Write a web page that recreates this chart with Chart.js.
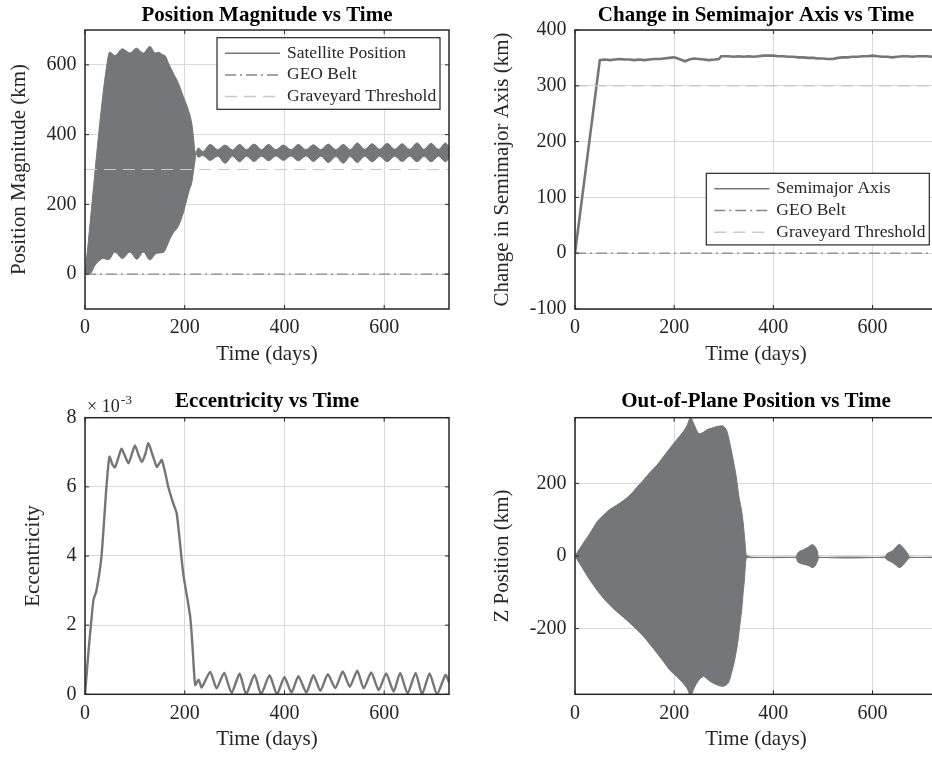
<!DOCTYPE html>
<html>
<head>
<meta charset="utf-8">
<title>Satellite orbit plots</title>
<script src="https://cdn.jsdelivr.net/npm/chart.js@4.4.1/dist/chart.umd.min.js"></script>
<style>
  html, body { margin: 0; padding: 0; background: #fff; overflow: hidden; }
  body { width: 932px; height: 757px; position: relative; }
  canvas { position: absolute; }
</style>
</head>
<body>
<canvas id="posChart" width="466" height="380" style="left:0;top:0"></canvas>
<canvas id="smaChart" width="480" height="380" style="left:466px;top:0"></canvas>
<canvas id="eccChart" width="466" height="377" style="left:0;top:380px"></canvas>
<canvas id="zChart" width="480" height="377" style="left:466px;top:380px"></canvas>
<script>
// ---- data: [day, value] ----
const timeTicks = [0, 200, 400, 600];
const posTicks = [0, 200, 400, 600];
const smaTicks = [-100, 0, 100, 200, 300, 400];
const eccTicks = [0, 2, 4, 6, 8];
const zTicks = [-200, 0, 200];

// position magnitude (km): upper / lower edge of the orbit-scale oscillation band
const posUpper = [[0, 0], [47, 628], [50, 636], [60, 627], [75, 646], [90, 634], [103, 648], [117, 634],
  [130, 653], [141, 634], [148, 636], [155, 630], [162, 624], [167, 606], [177, 577], [187, 548],
  [197, 510], [207, 472], [214, 433], [218, 386], [220, 357], [222, 347], [227, 362], [236, 352],
  [251, 372], [266, 357], [281, 370], [296, 356], [310, 372], [324, 357], [339, 373], [354, 357],
  [368, 372], [383, 357], [398, 370], [413, 357], [428, 372], [443, 357], [458, 371], [473, 357],
  [488, 373], [503, 357], [518, 372], [532, 357], [546, 376], [561, 358], [576, 374], [591, 358],
  [606, 375], [621, 358], [636, 374], [651, 358], [666, 376], [680, 358], [694, 375], [709, 358],
  [723, 376], [730, 365]];
const posLower = [[0, 0], [10, 1], [20, 25], [30, 40], [37, 45], [47, 41], [60, 63], [75, 45], [90, 63],
  [104, 43], [117, 63], [130, 41], [144, 60], [157, 62], [164, 79], [170, 100], [177, 118], [187, 137],
  [197, 175], [204, 213], [210, 245], [214, 261], [218, 300], [221, 330], [222, 347], [227, 335],
  [236, 340], [251, 326], [266, 338], [281, 318], [296, 338], [310, 322], [324, 338], [339, 323],
  [354, 338], [368, 325], [383, 339], [398, 326], [413, 339], [428, 325], [443, 339], [458, 323],
  [473, 338], [488, 320], [503, 337], [518, 318], [532, 337], [546, 320], [561, 338], [576, 322],
  [591, 338], [606, 322], [621, 338], [636, 323], [651, 338], [666, 322], [680, 338], [694, 322],
  [709, 338], [723, 322], [730, 333]];

const geoBelt = [[0, 0], [730, 0]];
const graveyard = [[0, 300], [730, 300]];

// change in semimajor axis (km)
const smaChange = [[0, 0], [50, 346], [60, 347], [70, 346], [80, 347], [90, 348], [100, 347], [110, 347],
  [120, 346], [130, 347], [140, 346], [150, 347], [160, 348], [170, 348], [180, 349], [190, 350],
  [200, 351], [210, 348], [222, 344], [230, 347], [240, 349], [250, 348], [260, 347], [270, 346],
  [282, 347], [290, 348], [295, 353], [300, 353], [310, 353], [320, 352], [330, 353], [340, 352],
  [350, 353], [360, 352], [370, 353], [380, 354], [390, 354], [400, 354], [410, 353], [420, 353],
  [430, 352], [440, 352], [450, 351], [460, 351], [470, 350], [480, 350], [490, 349], [500, 349],
  [510, 348], [520, 348], [530, 350], [540, 351], [550, 351], [560, 352], [570, 352], [580, 353],
  [590, 353], [600, 354], [610, 353], [620, 352], [630, 352], [640, 351], [650, 352], [660, 353],
  [670, 353], [680, 352], [690, 353], [700, 353], [710, 353], [720, 352], [730, 352]];

// eccentricity, in units of 1e-3
const eccE3 = [[0, 0], [8, 1.4], [17, 2.73], [23, 3.0], [33, 3.98], [43, 6.0], [49, 6.87], [55, 6.65],
  [60, 6.56], [66, 6.8], [73, 7.1], [80, 6.9], [87, 6.68], [94, 6.95], [100, 7.2], [108, 6.9],
  [114, 6.72], [121, 6.95], [127, 7.26], [136, 6.9], [144, 6.58], [150, 6.7], [154, 6.78], [161, 6.4],
  [167, 6.0], [177, 5.52], [184, 5.23], [197, 3.5], [211, 2.24], [216, 1.3], [221, 0.27], [228, 0.42],
  [234, 0.2], [251, 0.65], [264, 0.17], [279, 0.62], [294, 0.04], [310, 0.6], [323, 0.0], [340, 0.57],
  [353, 0.0], [370, 0.55], [385, 0.0], [400, 0.5], [414, 0.05], [428, 0.52], [444, 0.05], [458, 0.55],
  [472, 0.1], [487, 0.58], [502, 0.18], [517, 0.66], [531, 0.22], [546, 0.68], [559, 0.17], [574, 0.63],
  [589, 0.12], [604, 0.6], [619, 0.08], [632, 0.62], [647, 0.02], [663, 0.62], [676, 0.0], [691, 0.6],
  [706, 0.0], [723, 0.56], [730, 0.35]];

// out-of-plane position (km): upper / lower edge of the oscillation band
const zUpper = [[0, 0], [15, 32], [30, 62], [45, 95], [57, 112], [70, 128], [84, 140], [97, 152],
  [111, 168], [124, 188], [138, 209], [151, 230], [165, 250], [178, 273], [191, 296], [205, 320],
  [218, 342], [226, 360], [233, 381], [241, 360], [249, 338], [258, 340], [266, 348], [275, 352],
  [284, 356], [292, 358], [299, 358], [306, 345], [312, 312], [319, 265], [325, 220], [331, 160],
  [336, 125], [340, 80], [343, 35], [345, 4], [349, 0], [355, -3], [445, -3], [449, 8], [454, 14],
  [459, 16], [464, 20], [470, 24], [476, 30], [480, 31], [485, 24], [489, 12], [492, -3], [624, -3],
  [629, 6], [634, 10], [640, 14], [646, 22], [651, 30], [655, 32], [661, 24], [667, 14], [672, 4],
  [675, -3], [730, -3]];
const zLower = [[0, 0], [15, -33], [30, -66], [45, -95], [57, -116], [70, -135], [84, -153], [97, -168],
  [111, -185], [124, -202], [138, -221], [151, -243], [165, -267], [178, -290], [191, -314], [205, -332],
  [218, -350], [226, -365], [233, -383], [241, -362], [248, -345], [259, -332], [272, -345], [286, -355],
  [299, -359], [309, -350], [316, -320], [322, -286], [328, -240], [332, -195], [336, -150], [339, -103],
  [342, -60], [345, -8], [349, -4], [355, -4.5], [445, -4.5], [449, -16], [454, -20], [459, -22],
  [464, -24], [470, -26], [476, -30], [480, -32], [485, -26], [489, -14], [492, -4.5], [624, -4.5],
  [629, -10], [634, -14], [640, -18], [646, -24], [651, -30], [655, -32], [661, -26], [667, -16],
  [672, -8], [675, -4.5], [730, -4.5]];

// ---- styling ----
const serif = "'Liberation Serif', 'Times New Roman', serif";
const axisColor = '#262626';
const gridColor = '#d9d9d9';
const seriesGray = '#75767a';
const geoGray = '#878787';
const graveGray = '#c8c8c8';
const tickFont = { family: serif, size: 20 };
const labelFont = { family: serif, size: 21 };
const titleFont = { family: serif, size: 21, weight: 'bold' };

Chart.defaults.font.family = serif;

const pts = arr => arr.map(([x, y]) => ({ x, y }));

function bandDatasets(upper, lower, label, smooth) {
  const curve = smooth ? { cubicInterpolationMode: 'monotone' } : { tension: 0.3 };
  return [
    { label, data: pts(upper), borderColor: seriesGray, backgroundColor: seriesGray, borderWidth: 1,
      fill: '+1', pointRadius: 0, order: 2, inLegend: true, ...curve },
    { label: label + ' (lower)', data: pts(lower), borderColor: seriesGray, borderWidth: 1,
      fill: false, pointRadius: 0, order: 2, ...curve }
  ];
}

function refLines() {
  return [
    { label: 'GEO Belt', data: pts(geoBelt), borderColor: geoGray, borderWidth: 1.2,
      borderDash: [11, 4, 2, 4], pointRadius: 0, fill: false, order: 1, inLegend: true },
    { label: 'Graveyard Threshold', data: pts(graveyard), borderColor: graveGray, borderWidth: 1.2,
      borderDash: [12, 7], pointRadius: 0, fill: false, order: 0, inLegend: true }
  ];
}

// box around the axes, inward tick marks, floating legend and exponent note
const matlabAxes = {
  id: 'matlabAxes',
  afterDatasetsDraw(chart) {
    const { ctx, chartArea: a, scales } = chart;
    const len = 4;
    ctx.save();
    ctx.strokeStyle = axisColor;
    ctx.lineWidth = 1;
    ctx.beginPath();
    scales.x.ticks.forEach(t => {
      const px = scales.x.getPixelForValue(t.value);
      ctx.moveTo(px, a.bottom); ctx.lineTo(px, a.bottom - len);
      ctx.moveTo(px, a.top); ctx.lineTo(px, a.top + len);
    });
    scales.y.ticks.forEach(t => {
      const py = scales.y.getPixelForValue(t.value);
      ctx.moveTo(a.left, py); ctx.lineTo(a.left + len, py);
      ctx.moveTo(a.right, py); ctx.lineTo(a.right - len, py);
    });
    ctx.stroke();
    ctx.lineWidth = 1.5;
    ctx.strokeRect(a.left, a.top, a.right - a.left, a.bottom - a.top);
    ctx.restore();
  },
  afterDraw(chart, args, opts) {
    const { ctx, chartArea: a } = chart;
    ctx.save();
    if (opts.legend) {
      const lg = opts.legend;
      const left = a.right - lg.right - lg.width;
      const top = a.top + lg.top;
      ctx.fillStyle = '#fff';
      ctx.fillRect(left, top, lg.width, lg.height);
      ctx.strokeStyle = axisColor;
      ctx.lineWidth = 1.2;
      ctx.strokeRect(left, top, lg.width, lg.height);
      ctx.font = '17.5px ' + serif;
      ctx.textBaseline = 'middle';
      chart.data.datasets.filter(d => d.inLegend).forEach((d, i) => {
        const y = top + 15.5 + i * 21.7;
        ctx.strokeStyle = d.borderColor;
        ctx.lineWidth = 1.5;
        ctx.setLineDash(d.borderDash || []);
        ctx.beginPath();
        ctx.moveTo(left + 8, y);
        ctx.lineTo(left + 63, y);
        ctx.stroke();
        ctx.setLineDash([]);
        ctx.fillStyle = axisColor;
        ctx.fillText(d.label, left + 70, y);
      });
    }
    if (opts.exponent) {
      ctx.fillStyle = axisColor;
      ctx.textBaseline = 'alphabetic';
      ctx.font = '18px ' + serif;
      const x0 = a.left + 2, y0 = a.top - 6;
      ctx.fillText('\u00d7 10', x0, y0);
      const w = ctx.measureText('\u00d7 10').width;
      ctx.font = '13.5px ' + serif;
      ctx.fillText(opts.exponent, x0 + w + 1, y0 - 8);
    }
    ctx.restore();
  }
};

function makePanel(p) {
  const titleH = 21 * 1.2;
  const yWidth = p.area.l - p.frame.x;
  const xHeight = p.frame.y + p.frame.h - p.area.b;
  const xTitleBottom = p.frame.y + p.frame.h - 12.6 - (p.area.b + 45.6);
  return new Chart(document.getElementById(p.id), {
    type: 'line',
    data: { datasets: p.datasets },
    plugins: [matlabAxes],
    options: {
      responsive: false,
      animation: false,
      events: [],
      layout: { padding: { left: 0, top: 0, bottom: 0, right: p.frame.x + p.frame.w - p.area.r } },
      scales: {
        x: {
          type: 'linear', min: 0, max: 730,
          afterBuildTicks: s => { s.ticks = timeTicks.map(v => ({ value: v })); },
          afterFit: s => { s.height = xHeight; },
          ticks: { color: axisColor, font: tickFont, padding: 7, maxRotation: 0, autoSkip: false },
          grid: { color: gridColor, drawTicks: false },
          border: { display: false },
          title: { display: true, text: 'Time (days)', color: axisColor, font: labelFont,
                   padding: { top: 0, bottom: xTitleBottom } }
        },
        y: {
          type: 'linear', min: p.yMin, max: p.yMax,
          afterBuildTicks: s => { s.ticks = p.yTicks.map(v => ({ value: v })); },
          afterFit: s => { s.width = yWidth; },
          ticks: { color: axisColor, font: tickFont, padding: 8.5, autoSkip: false },
          grid: { color: gridColor, drawTicks: false },
          border: { display: false },
          title: { display: true, text: p.yTitle, color: axisColor, font: labelFont,
                   padding: { top: p.yTitleMid - 12.6, bottom: 0 } }
        }
      },
      plugins: {
        legend: { display: false },
        tooltip: { enabled: false },
        title: {
          display: true, text: p.title, color: '#000', font: titleFont, fullSize: false,
          padding: { top: p.titleTop, bottom: (p.area.t - p.frame.y) - p.titleTop - titleH }
        },
        matlabAxes: { legend: p.legend || null, exponent: p.exponent || null }
      }
    }
  });
}

makePanel({
  id: 'posChart', frame: { x: 0, y: 0, w: 466, h: 380 }, area: { l: 85, t: 30, r: 449, b: 309 },
  title: 'Position Magnitude vs Time', titleTop: 2.5,
  yTitle: 'Position Magnitude (km)', yTitleMid: 19.5,
  yMin: -100, yMax: 700, yTicks: posTicks,
  datasets: [...bandDatasets(posUpper, posLower, 'Satellite Position', true), ...refLines()],
  legend: { right: 9, top: 7.7, width: 223, height: 71.6 }
});

makePanel({
  id: 'smaChart', frame: { x: 466, y: 0, w: 480, h: 380 }, area: { l: 575, t: 30, r: 937, b: 309 },
  title: 'Change in Semimajor Axis vs Time', titleTop: 2.5,
  yTitle: 'Change in Semimajor Axis (km)', yTitleMid: 36.1,
  yMin: -100, yMax: 400, yTicks: smaTicks,
  datasets: [
    { label: 'Semimajor Axis', data: pts(smaChange), borderColor: seriesGray, borderWidth: 2.6,
      pointRadius: 0, fill: false, order: 2, inLegend: true },
    ...refLines()
  ],
  legend: { right: 7.7, top: 143.3, width: 223, height: 71.6 }
});

makePanel({
  id: 'eccChart', frame: { x: 0, y: 380, w: 466, h: 377 }, area: { l: 85, t: 417.7, r: 449, b: 694.3 },
  title: 'Eccentricity vs Time', titleTop: 9,
  yTitle: 'Eccentricity', yTitleMid: 33.5,
  yMin: 0, yMax: 8, yTicks: eccTicks,
  datasets: [
    { label: 'Eccentricity', data: pts(eccE3), borderColor: seriesGray, borderWidth: 2.4,
      tension: 0.2, pointRadius: 0, fill: false }
  ],
  exponent: '-3'
});

makePanel({
  id: 'zChart', frame: { x: 466, y: 380, w: 480, h: 377 }, area: { l: 575, t: 417.7, r: 937, b: 694.3 },
  title: 'Out-of-Plane Position vs Time', titleTop: 9,
  yTitle: 'Z Position (km)', yTitleMid: 36.1,
  yMin: -381, yMax: 381, yTicks: zTicks,
  datasets: bandDatasets(zUpper, zLower, 'Z Position', false)
});
</script>
</body>
</html>
